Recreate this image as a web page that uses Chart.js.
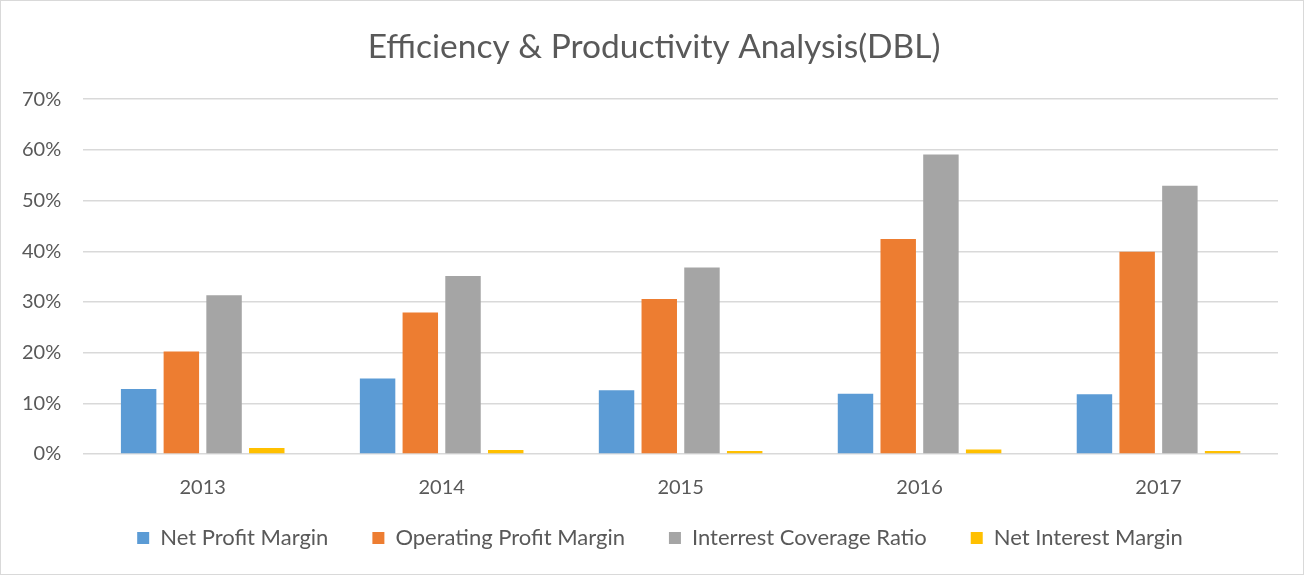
<!DOCTYPE html>
<html>
<head>
<meta charset="utf-8">
<script src="https://cdn.jsdelivr.net/npm/chart.js@4/dist/chart.umd.min.js"></script>
<style>
    html, body { margin: 0; padding: 0; background: #fff; }
    #wrap { position: relative; width: 1302px; height: 573px; border: 1px solid #d9d9d9; }
</style>
</head>
<body>
<div id="wrap"><canvas id="efficiency-chart"></canvas></div>
<script>
// Chart data (as fractions)
const years = ['2013', '2014', '2015', '2016', '2017'];
const netProfitMargin = [0.128, 0.149, 0.126, 0.119, 0.118];
const operatingProfitMargin = [0.202, 0.279, 0.306, 0.424, 0.399];
const interestCoverageRatio = [0.313, 0.351, 0.368, 0.591, 0.529];
const netInterestMargin = [0.012, 0.008, 0.006, 0.009, 0.006];

const textColor = '#595959';
const fontFamily = 'Lato, "Open Sans", sans-serif';

function makeDataset(label, data, color) {
    return {
        label: label,
        data: data,
        backgroundColor: color,
        borderWidth: 0,
        categoryPercentage: 0.715,
        barPercentage: 0.83
    };
}

// Move a layout box after the layout pass (title and legend sit off-centre in the original)
function shiftBox(box, dx, dy) {
    if (!box) return;
    box.left += dx;
    box.right += dx;
    box.top += dy;
    box.bottom += dy;
}

const boxShift = {
    id: 'boxShift',
    afterLayout: function (chart) {
        shiftBox(chart.titleBlock, 15, 0);
        shiftBox(chart.legend, 21, -19);
    }
};

const ctx = document.getElementById('efficiency-chart').getContext('2d');

new Chart(ctx, {
    type: 'bar',
    data: {
        labels: years,
        datasets: [
            makeDataset('Net Profit Margin', netProfitMargin, '#5b9bd5'),
            makeDataset('Operating Profit Margin', operatingProfitMargin, '#ed7d31'),
            makeDataset('Interrest Coverage Ratio', interestCoverageRatio, '#a5a5a5'),
            makeDataset('Net Interest Margin', netInterestMargin, '#ffc000')
        ]
    },
    plugins: [boxShift],
    options: {
        responsive: true,
        maintainAspectRatio: false,
        animation: false,
        layout: {
            padding: { left: -1, right: 25, top: 12, bottom: -4 }
        },
        plugins: {
            title: {
                display: true,
                text: 'Efficiency & Productivity Analysis(DBL)',
                color: textColor,
                font: { family: fontFamily, size: 33.5, weight: 'normal' },
                padding: { top: 14, bottom: 32 }
            },
            legend: {
                position: 'bottom',
                labels: {
                    color: textColor,
                    font: { family: fontFamily, size: 22 },
                    boxWidth: 12,
                    boxHeight: 12,
                    padding: 44
                }
            },
            tooltip: { enabled: false }
        },
        scales: {
            x: {
                grid: { display: false },
                border: { display: false },
                ticks: {
                    color: textColor,
                    font: { family: fontFamily, size: 20 },
                    padding: 14
                },
                afterFit: function (scale) {
                    scale.height = 48;
                }
            },
            y: {
                min: 0,
                max: 0.7,
                grid: { color: '#d9d9d9', lineWidth: 1.5, drawTicks: false },
                border: { display: false },
                ticks: {
                    stepSize: 0.1,
                    color: textColor,
                    font: { family: fontFamily, size: 20 },
                    padding: 22,
                    callback: function (value) {
                        return Math.round(value * 100) + '%';
                    }
                }
            }
        }
    }
});
</script>
</body>
</html>
